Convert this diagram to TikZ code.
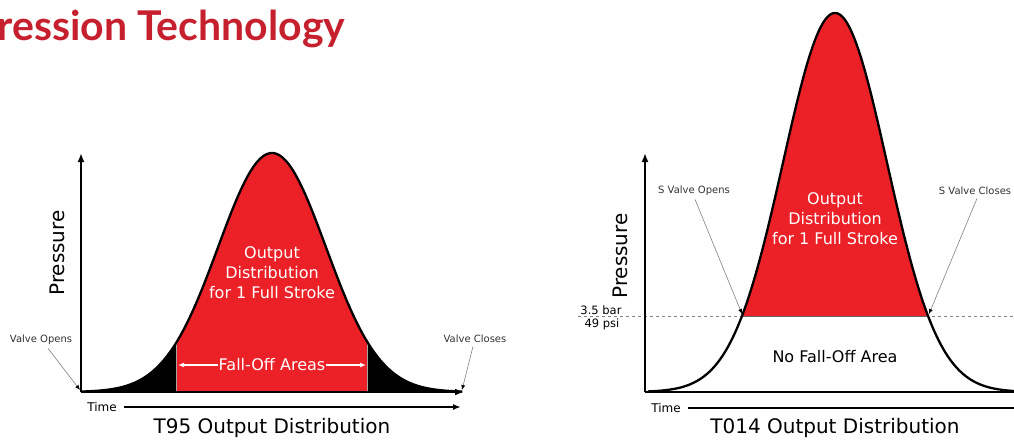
\documentclass[tikz,border=0pt]{standalone}
\usepackage{fontspec}
\setmainfont{DejaVu Sans}
\newfontfamily\titlefont{Lato}
\usetikzlibrary{arrows.meta}

\definecolor{strokered}{RGB}{236,32,39}
\definecolor{titlered}{RGB}{198,32,46}
\definecolor{labelgray}{RGB}{50,50,50}

\tikzset{
  axisline/.style={line width=2.6pt, -{Latex[length=9pt,width=7pt]}},
  timeline/.style={line width=1.9pt, -{Latex[length=8pt,width=6pt]}},
  bellline/.style={line width=2.3pt, line join=round},
  leader/.style={gray, line width=0.6pt, -{Latex[black,length=5pt,width=4pt]}},
  smalllabel/.style={text=labelgray, font=\fontsize{10}{12}\selectfont},
  biglabel/.style={font=\fontsize{20}{24}\selectfont},
  midlabel/.style={font=\fontsize{16}{20}\selectfont},
  inlabel/.style={text=white, align=center, font=\fontsize{16}{20}\selectfont}
}

\begin{document}
\begin{tikzpicture}[x=1pt, y=-1pt,
    declare function={bellA(\x)=392-239*exp(-0.5*((\x-272)/53.9)^2);
                      bellB(\x)=392-379*exp(-0.5*((\x-835)/51.9)^2);}]
    \useasboundingbox (0,0) rectangle (1014,439);

    % title
    \node[anchor=west, text=titlered, font=\titlefont\bfseries\fontsize{41}{44}\selectfont] (title) at (-6,29) {ression Technology};

    % ---- T95 ----
    \fill[black] (81,392) -- plot[domain=81:176, samples=40] (\x,{bellA(\x)}) -- (176,392) -- cycle;
    \fill[strokered] (176,392) -- plot[domain=176:367, samples=80] (\x,{bellA(\x)}) -- (367,392) -- cycle;
    \fill[black] (367,392) -- plot[domain=367:462, samples=40] (\x,{bellA(\x)}) -- (462,392) -- cycle;
    \draw[gray!70, line width=0.8pt] (176,392) -- (176,{bellA(176)});
    \draw[gray!70, line width=0.8pt] (367,392) -- (367,{bellA(367)});
    \draw[bellline] plot[domain=81:462, samples=120] (\x,{bellA(\x)});

    \coordinate (originA) at (81,392);
    \coordinate (topA) at (81,153);
    \coordinate (rightA) at (464,392);
    \draw[axisline] (originA) -- (topA);
    \draw[axisline] (originA) -- (rightA);

    \node[inlabel] (outA) at (272,273) {Output\\Distribution\\for 1 Full Stroke};
    \node[text=white, midlabel, inner sep=1pt] (fall) at (272,365) {Fall-Off Areas};
    \coordinate (fallL) at (178,365);
    \coordinate (fallR) at (366,365);
    \draw[white, line width=1.2pt, -{Latex[length=6pt,width=5pt]}] (fall.west) -- (fallL);
    \draw[white, line width=1.2pt, -{Latex[length=6pt,width=5pt]}] (fall.east) -- (fallR);

    \node[biglabel, rotate=90] (presA) at (57,253) {Pressure};
    \node[smalllabel] (vopen) at (41,340) {Valve Opens};
    \coordinate (vo) at (80,390);
    \draw[leader] ([xshift=7pt]vopen.south) -- (vo);
    \node[smalllabel] (vclose) at (475,339) {Valve Closes};
    \coordinate (vc) at (462,390);
    \draw[leader] ([xshift=-2pt]vclose.south) -- (vc);

    \node[font=\fontsize{12}{14}\selectfont] (timeA) at (102,407) {Time};
    \coordinate (timeAend) at (461,407);
    \draw[timeline, shorten <=4pt] (timeA.east) -- (timeAend);
    \node[biglabel] (capA) at (272,428) {T95 Output Distribution};

    % ---- T014 ----
    \fill[strokered] plot[domain=742:928, samples=100] (\x,{bellB(\x)}) -- cycle;
    \draw[gray, dashed, line width=0.6pt] (578,316) -- (1014,316);
    \draw[gray!80!black, line width=0.8pt] (742,316) -- (928,316);
    \draw[bellline] plot[domain=648:1020, samples=160] (\x,{bellB(\x)});

    \coordinate (originB) at (645,392);
    \coordinate (topB) at (645,153);
    \coordinate (rightB) at (1030,392);
    \draw[axisline] (originB) -- (topB);
    \draw[axisline] (originB) -- (rightB);

    \node[inlabel] (outB) at (835,219) {Output\\Distribution\\for 1 Full Stroke};
    \node[midlabel] (nofall) at (835,357) {No Fall-Off Area};

    \node[biglabel, rotate=90] (presB) at (620,256) {Pressure};
    \node[font=\fontsize{11.5}{14}\selectfont, inner sep=0pt] (bar) at (601,310) {3.5 bar};
    \node[font=\fontsize{11.5}{14}\selectfont, inner sep=0pt] (psi) at (602,324) {49 psi};

    \node[smalllabel] (sopen) at (694,191) {S Valve Opens};
    \coordinate (so) at (742,314);
    \draw[leader] ([xshift=1pt]sopen.south) -- (so);
    \node[smalllabel] (sclose) at (975,191) {S Valve Closes};
    \coordinate (sc) at (929,314);
    \draw[leader] ([xshift=2pt]sclose.south) -- (sc);

    \node[font=\fontsize{12}{14}\selectfont] (timeB) at (666,408) {Time};
    \coordinate (timeBend) at (1040,408);
    \draw[timeline, shorten <=4pt] (timeB.east) -- (timeBend);
    \node[biglabel] (capB) at (835,428) {T014 Output Distribution};
\end{tikzpicture}
\end{document}
